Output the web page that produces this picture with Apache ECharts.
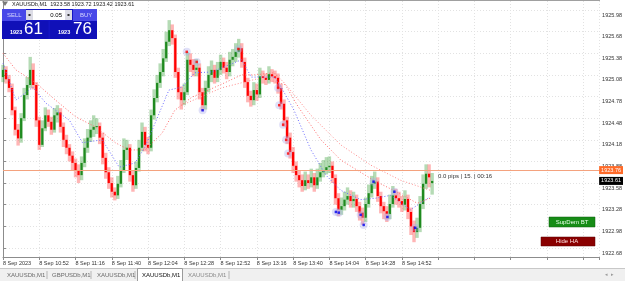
<!DOCTYPE html>
<html><head><meta charset="utf-8">
<script src="https://cdn.jsdelivr.net/npm/echarts@6/dist/echarts.min.js"></script>
<style>html,body{margin:0;padding:0;background:#fff;}#c{width:625px;height:281px;}</style>
</head><body><div id="c"></div>
<script>
// ---- data (minutes counted from 8 Sep 10:28, one bar = 2 minutes) ----
const barMinutes = 2;
const tickLabels = ['8 Sep 2023','8 Sep 10:52','8 Sep 11:16','8 Sep 11:40','8 Sep 12:04','8 Sep 12:28','8 Sep 12:52','8 Sep 13:16','8 Sep 13:40','8 Sep 14:04','8 Sep 14:28','8 Sep 14:52'];
const priceTicks = [1922.68,1922.98,1923.28,1923.58,1923.88,1924.18,1924.48,1924.78,1925.08,1925.38,1925.68,1925.98];
const opens = [1925.05,1925.15,1925.02,1924.90,1924.59,1924.32,1924.20,1924.48,1924.80,1924.94,
1925.15,1924.94,1924.45,1924.11,1924.34,1924.52,1924.43,1924.32,1924.52,1924.56,
1924.36,1924.18,1924.07,1923.96,1923.86,1923.76,1923.69,1923.86,1924.07,1924.21,
1924.32,1924.36,1924.37,1924.21,1923.93,1923.73,1923.58,1923.46,1923.41,1923.57,
1923.76,1924.04,1924.07,1923.69,1923.55,1923.79,1924.07,1924.29,1924.11,1924.07,
1924.52,1924.76,1924.97,1925.12,1925.31,1925.54,1925.70,1925.59,1925.12,1924.84,
1924.73,1924.84,1925.29,1925.22,1925.15,1925.18,1924.84,1924.66,1924.90,1925.08,
1925.15,1925.04,1925.15,1925.26,1925.18,1925.12,1925.29,1925.33,1925.40,1925.45,
1925.26,1924.98,1924.79,1924.73,1924.87,1924.81,1925.06,1925.04,1925.01,1925.09,
1925.06,1925.04,1924.90,1924.68,1924.45,1924.21,1924.01,1923.82,1923.69,1923.62,
1923.54,1923.62,1923.58,1923.66,1923.55,1923.66,1923.73,1923.76,1923.80,1923.82,
1923.65,1923.37,1923.21,1923.26,1923.35,1923.40,1923.33,1923.36,1923.26,1923.17,
1923.10,1923.29,1923.44,1923.57,1923.60,1923.40,1923.26,1923.19,1923.15,1923.29,
1923.41,1923.37,1923.33,1923.28,1923.36,1923.18,1922.98,1922.90,1922.96,1923.29,
1923.57,1923.71,1923.58];
const closes = [1925.15,1925.02,1924.90,1924.59,1924.32,1924.20,1924.48,1924.80,1924.94,1925.15,
1924.94,1924.45,1924.11,1924.34,1924.52,1924.43,1924.32,1924.52,1924.56,1924.36,
1924.18,1924.07,1923.96,1923.86,1923.76,1923.69,1923.86,1924.07,1924.21,1924.32,
1924.36,1924.37,1924.21,1923.93,1923.73,1923.58,1923.46,1923.41,1923.57,1923.76,
1924.04,1924.07,1923.69,1923.55,1923.79,1924.07,1924.29,1924.11,1924.07,1924.52,
1924.76,1924.97,1925.12,1925.31,1925.54,1925.70,1925.59,1925.12,1924.84,1924.73,
1924.84,1925.29,1925.22,1925.15,1925.18,1924.84,1924.66,1924.90,1925.08,1925.15,
1925.04,1925.15,1925.26,1925.18,1925.12,1925.29,1925.33,1925.40,1925.45,1925.26,
1924.98,1924.79,1924.73,1924.87,1924.81,1925.06,1925.04,1925.01,1925.09,1925.06,
1925.04,1924.90,1924.68,1924.45,1924.21,1924.01,1923.82,1923.69,1923.62,1923.54,
1923.62,1923.58,1923.66,1923.55,1923.66,1923.73,1923.76,1923.80,1923.82,1923.65,
1923.37,1923.21,1923.26,1923.35,1923.40,1923.33,1923.36,1923.26,1923.17,1923.10,
1923.29,1923.44,1923.57,1923.60,1923.40,1923.26,1923.19,1923.15,1923.29,1923.41,
1923.37,1923.33,1923.28,1923.36,1923.18,1922.98,1922.90,1922.96,1923.29,1923.57,
1923.71,1923.66,1923.61];
const highs = [1925.22,1925.20,1925.08,1924.96,1924.64,1924.40,1924.55,1924.90,1925.05,1925.33,
1925.24,1924.98,1924.50,1924.45,1924.63,1924.60,1924.50,1924.62,1924.66,1924.62,
1924.42,1924.25,1924.12,1924.02,1923.92,1923.84,1923.95,1924.20,1924.33,1924.45,
1924.52,1924.48,1924.42,1924.28,1924.00,1923.80,1923.66,1923.52,1923.68,1923.90,
1924.20,1924.18,1924.12,1923.76,1923.88,1924.18,1924.42,1924.36,1924.22,1924.60,
1924.88,1925.08,1925.24,1925.44,1925.68,1925.84,1925.78,1925.64,1925.18,1924.92,
1924.96,1925.40,1925.38,1925.30,1925.30,1925.24,1924.90,1925.00,1925.20,1925.28,
1925.22,1925.26,1925.36,1925.32,1925.26,1925.40,1925.44,1925.52,1925.58,1925.52,
1925.32,1925.04,1924.86,1924.98,1924.96,1925.18,1925.14,1925.10,1925.20,1925.16,
1925.14,1925.10,1924.96,1924.74,1924.50,1924.28,1924.08,1923.88,1923.76,1923.70,
1923.74,1923.70,1923.78,1923.72,1923.78,1923.86,1923.90,1923.94,1923.95,1923.88,
1923.70,1923.44,1923.38,1923.46,1923.52,1923.48,1923.46,1923.42,1923.32,1923.24,
1923.38,1923.56,1923.68,1923.74,1923.66,1923.46,1923.32,1923.26,1923.42,1923.54,
1923.50,1923.46,1923.40,1923.48,1923.42,1923.24,1923.06,1923.10,1923.40,1923.70,
1923.84,1923.84,1923.72];
const lows = [1924.98,1924.96,1924.84,1924.52,1924.24,1924.10,1924.14,1924.44,1924.74,1924.90,
1924.88,1924.36,1924.04,1924.08,1924.30,1924.36,1924.25,1924.28,1924.42,1924.28,
1924.08,1923.98,1923.88,1923.76,1923.66,1923.58,1923.62,1923.80,1924.00,1924.15,
1924.22,1924.26,1924.12,1923.84,1923.64,1923.50,1923.38,1923.34,1923.36,1923.52,
1923.72,1923.90,1923.60,1923.46,1923.50,1923.74,1924.02,1924.02,1923.98,1924.02,
1924.46,1924.70,1924.90,1925.06,1925.26,1925.48,1925.50,1925.04,1924.74,1924.60,
1924.66,1924.80,1925.12,1925.06,1925.06,1924.74,1924.58,1924.60,1924.84,1924.98,
1924.96,1924.98,1925.08,1925.10,1925.02,1925.06,1925.20,1925.26,1925.32,1925.18,
1924.90,1924.70,1924.64,1924.66,1924.72,1924.76,1924.96,1924.94,1924.96,1924.98,
1924.96,1924.82,1924.60,1924.36,1924.12,1923.92,1923.72,1923.60,1923.52,1923.46,
1923.48,1923.50,1923.52,1923.46,1923.50,1923.60,1923.66,1923.70,1923.72,1923.58,
1923.28,1923.12,1923.14,1923.20,1923.28,1923.24,1923.24,1923.18,1923.06,1923.00,
1923.04,1923.24,1923.38,1923.50,1923.32,1923.16,1923.08,1923.04,1923.08,1923.24,
1923.28,1923.24,1923.18,1923.20,1923.08,1922.86,1922.76,1922.82,1922.90,1923.22,
1923.50,1923.52,1923.42];
// moving averages [minute, price]
const fastMA = [[0,1925.24],[8.5,1924.73],[19.7,1924.91],[28.3,1924.69],[44,1924.45],[52.6,1924.14],[65.7,1924.18],[76.9,1923.80],[87.4,1923.86],[94,1924.08],[109.8,1924.87],[118.3,1924.91],[126.9,1925.11],[138,1925.12],[153.2,1925.25],[157.8,1925.29],[164.4,1925.05],[179.5,1925.05],[184.1,1924.91],[192.6,1924.59],[203.8,1924.04],[213.7,1923.69],[223.5,1923.48],[236.7,1923.35],[246.5,1923.37],[256.4,1923.41],[269.6,1923.21],[276.1,1923.30],[282.7,1923.39]];
const midMA = [[0,1925.38],[8.5,1925.15],[21.7,1924.97],[34.8,1924.73],[48,1924.50],[61.1,1924.36],[74.3,1924.14],[83.5,1924.04],[94,1924.04],[105.2,1924.27],[113.7,1924.59],[124.9,1924.77],[136.1,1924.87],[146.6,1924.97],[157.8,1925.08],[166.3,1925.08],[179.5,1925.11],[186.1,1924.97],[195.3,1924.64],[210.4,1924.18],[223.5,1923.90],[245.2,1923.62],[258.4,1923.48],[274.2,1923.30],[282.7,1923.37]];
const slowMA = [[118.3,1924.66],[144.6,1924.90],[170.9,1925.04],[187.4,1924.94],[203.8,1924.52],[223.5,1924.11],[243.3,1923.83],[263,1923.62],[282.7,1923.48]];
const pivotHighs = [[121.6,1925.40],[128.2,1925.26],[155.8,1925.44],[182.1,1924.90],[182.8,1924.66],[185.4,1924.39],[187.4,1924.18],[188.7,1923.99]];
const pivotLows = [[132.1,1924.59],[220.3,1923.18],[222.2,1923.17],[236.7,1923.14],[238.7,1923.00],[245.2,1923.60],[254.4,1923.11],[259,1923.46],[272.8,1922.96]];
const askPrice = 1923.76;
const bidPrice = 1923.61;

// ---- chart ----
const F = '"Liberation Sans", Arial, sans-serif';
const n = Math.min(opens.length, closes.length, highs.length, lows.length);
const candleData = [];
for (let i = 0; i < n; i++) candleData.push([i * barMinutes, opens[i], closes[i], lows[i], highs[i]]);

const chart = echarts.init(document.getElementById('c'), null, {renderer: 'canvas'});
const dotted = [1, 2];
const priceLabel = (bg) => ({position: 'end', distance: 0, formatter: p => p.value.toFixed(2), fontSize: 5.5, fontFamily: F,
  color: '#fff', backgroundColor: bg, padding: [1, 2, 1, 2]});
const option = {
  animation: false,
  grid: {left: 0, right: 25, top: 1, bottom: 24},
  xAxis: {
    type: 'value', min: 0, max: 394.5, interval: 24,
    axisLine: {lineStyle: {color: '#8c8c8c'}},
    axisTick: {length: 3, lineStyle: {color: '#8c8c8c'}},
    axisLabel: {
      fontSize: 5.5, fontFamily: F, color: '#333', align: 'left', margin: 3,
      formatter: v => { const k = Math.round(v / 24); return tickLabels[k] || ''; }
    },
    splitLine: {show: true, lineStyle: {color: '#e2e2e2', type: dotted}}
  },
  yAxis: {
    type: 'value', position: 'right', min: 1922.555, max: 1926.105, scale: true,
    axisLine: {show: true, lineStyle: {color: '#8c8c8c'}},
    axisTick: {show: true, length: 3, customValues: priceTicks, lineStyle: {color: '#8c8c8c'}},
    axisLabel: {customValues: priceTicks, fontSize: 5.5, fontFamily: F, color: '#333', margin: 3,
      verticalAlign: 'top', padding: [2, 0, 0, 0], formatter: v => v.toFixed(2)},
    splitLine: {show: true, lineStyle: {color: '#e2e2e2', type: dotted}}
  },
  series: [
    {
      type: 'custom', name: 'bars', data: candleData, encode: {x: 0, y: [1, 2, 3, 4]},
      renderItem: function (params, api) {
        const t = api.value(0), o = api.value(1), c = api.value(2), l = api.value(3), h = api.value(4);
        const pO = api.coord([t, o]), pC = api.coord([t, c]), pL = api.coord([t, l]), pH = api.coord([t, h]);
        const up = c >= o;
        const x = pO[0];
        const top = Math.min(pO[1], pC[1]);
        const hb = Math.max(1, Math.abs(pO[1] - pC[1]));
        return {type: 'group', children: [
          {type: 'rect', shape: {x: x - 1.7, y: pH[1], width: 3.4, height: pL[1] - pH[1]},
           style: {fill: up ? 'rgba(70,165,70,0.4)' : 'rgba(255,70,70,0.4)'}},
          {type: 'rect', shape: {x: x - 1.1, y: top, width: 2.2, height: hb},
           style: {fill: up ? '#1f8a1f' : '#ff0000'}}
        ]};
      },
      z: 3
    },
    {
      type: 'line', name: 'fast', data: fastMA, showSymbol: false, z: 4,
      lineStyle: {color: '#6b6bff', width: 1, type: dotted},
      markLine: {
        silent: true, symbol: 'none',
        data: [
          {yAxis: askPrice, lineStyle: {color: '#f4a27e', width: 1, type: 'solid'}, label: priceLabel('#ff6a28')},
          {yAxis: bidPrice, lineStyle: {color: 'rgba(0,0,0,0)', width: 1, type: 'solid'}, label: priceLabel('#000000')}
        ]
      }
    },
    {type: 'line', name: 'mid', data: midMA, showSymbol: false, z: 4, lineStyle: {color: '#ff6a6a', width: 1, type: dotted}},
    {type: 'line', name: 'slow', data: slowMA, showSymbol: false, z: 4, lineStyle: {color: '#ff8a8a', width: 1, type: dotted}},
    {type: 'scatter', name: 'rings', data: pivotHighs.concat(pivotLows), symbolSize: 8, z: 5,
     itemStyle: {color: 'rgba(170,170,235,0.45)'}},
    {type: 'scatter', name: 'hiDots', data: pivotHighs, symbolSize: 2.5, symbol: 'rect', z: 6, itemStyle: {color: '#ff0000'}},
    {type: 'scatter', name: 'loDots', data: pivotLows, symbolSize: 2.5, symbol: 'rect', z: 6, itemStyle: {color: '#0000ee'}}
  ],
  graphic: [
    {type: 'line', z: 50, shape: {x1: 0, y1: 0.5, x2: 600, y2: 0.5}, style: {stroke: '#a0a0a0', lineWidth: 1}},
    {type: 'polygon', z: 100, shape: {points: [[2, 1.5], [8, 1.5], [5, 6]]}, style: {fill: '#7a7a7a'}},
    {type: 'text', z: 100, x: 12, y: 1, style: {text: 'XAUUSDb,M1  1923.58 1923.72 1923.42 1923.61', font: '5.5px ' + F, fill: '#222'}},
    // one-click trading panel
    {type: 'rect', z: 100, shape: {x: 2, y: 9, width: 95, height: 30}, style: {fill: '#1414c4'}},
    {type: 'rect', z: 101, shape: {x: 2, y: 9, width: 24, height: 12}, style: {fill: '#4848e8'}},
    {type: 'text', z: 102, x: 7, y: 12, style: {text: 'SELL', font: '6px ' + F, fill: '#d8d8ff'}},
    {type: 'rect', z: 101, shape: {x: 26, y: 10, width: 7, height: 10}, style: {fill: '#dcdce6'}},
    {type: 'rect', z: 102, shape: {x: 28.5, y: 14, width: 2, height: 2}, style: {fill: '#333'}},
    {type: 'rect', z: 101, shape: {x: 33, y: 10, width: 32, height: 10}, style: {fill: '#ffffff'}},
    {type: 'text', z: 102, x: 62, y: 12, style: {text: '0.05', font: '6px ' + F, fill: '#000', align: 'right'}},
    {type: 'rect', z: 101, shape: {x: 65, y: 10, width: 7, height: 10}, style: {fill: '#dcdce6'}},
    {type: 'rect', z: 102, shape: {x: 67.5, y: 14, width: 2, height: 2}, style: {fill: '#333'}},
    {type: 'rect', z: 101, shape: {x: 73, y: 9, width: 24, height: 12}, style: {fill: '#4848e8'}},
    {type: 'text', z: 102, x: 80, y: 12, style: {text: 'BUY', font: '6px ' + F, fill: '#d8d8ff'}},
    {type: 'rect', z: 101, shape: {x: 2, y: 21, width: 46.5, height: 18}, style: {fill: '#1010b8'}},
    {type: 'rect', z: 101, shape: {x: 50, y: 21, width: 47, height: 18}, style: {fill: '#1010b8'}},
    {type: 'text', z: 102, x: 10, y: 29.5, style: {text: '1923', font: 'bold 5.5px ' + F, fill: '#fff'}},
    {type: 'text', z: 102, x: 24, y: 21, style: {text: '61', font: '17px ' + F, fill: '#fff'}},
    {type: 'text', z: 102, x: 58, y: 29.5, style: {text: '1923', font: 'bold 5.5px ' + F, fill: '#fff'}},
    {type: 'text', z: 102, x: 73, y: 21, style: {text: '76', font: '17px ' + F, fill: '#fff'}},
    // info text
    {type: 'text', z: 100, x: 438, y: 173, style: {text: '0.0 pips | 15. | 00:16', font: '6px ' + F, fill: '#333'}},
    // buttons
    {type: 'rect', z: 100, shape: {x: 549, y: 217, width: 46, height: 10}, style: {fill: '#168c16', stroke: '#0c5c0c', lineWidth: 0.5}},
    {type: 'text', z: 101, x: 572, y: 222, style: {text: 'SupDem BT', font: '6px ' + F, fill: '#e8ffe8', align: 'center', verticalAlign: 'middle'}},
    {type: 'rect', z: 100, shape: {x: 541, y: 237, width: 54, height: 9}, style: {fill: '#8a0000', stroke: '#5a0000', lineWidth: 0.5}},
    {type: 'text', z: 101, x: 567, y: 241.5, style: {text: 'Hide HA', font: '6px ' + F, fill: '#ffe0e0', align: 'center', verticalAlign: 'middle'}},
    // tab bar
    {type: 'rect', z: 100, shape: {x: 0, y: 268, width: 625, height: 13}, style: {fill: '#f0f0f0'}},
    {type: 'line', z: 101, shape: {x1: 0, y1: 268.5, x2: 625, y2: 268.5}, style: {stroke: '#c8c8c8', lineWidth: 1}},
    {type: 'rect', z: 101, shape: {x: 137.5, y: 268.5, width: 45, height: 13}, style: {fill: '#ffffff', stroke: '#9a9a9a', lineWidth: 1}},
    {type: 'text', z: 102, x: 7, y: 272, style: {text: 'XAUUSDb,M1', font: '6px ' + F, fill: '#6a6a6a'}},
    {type: 'text', z: 102, x: 52, y: 272, style: {text: 'GBPUSDb,M1', font: '6px ' + F, fill: '#6a6a6a'}},
    {type: 'text', z: 102, x: 97, y: 272, style: {text: 'XAUUSDb,M1', font: '6px ' + F, fill: '#6a6a6a'}},
    {type: 'text', z: 102, x: 142, y: 272, style: {text: 'XAUUSDb,M1', font: '6px ' + F, fill: '#111'}},
    {type: 'text', z: 102, x: 188, y: 272, style: {text: 'XAUUSDb,M1', font: '6px ' + F, fill: '#8a8a8a'}},
    {type: 'line', z: 101, shape: {x1: 47, y1: 271, x2: 47, y2: 279}, style: {stroke: '#b4b4b4', lineWidth: 1}},
    {type: 'line', z: 101, shape: {x1: 91, y1: 271, x2: 91, y2: 279}, style: {stroke: '#b4b4b4', lineWidth: 1}},
    {type: 'line', z: 101, shape: {x1: 135, y1: 271, x2: 135, y2: 279}, style: {stroke: '#b4b4b4', lineWidth: 1}},
    {type: 'line', z: 101, shape: {x1: 229, y1: 271, x2: 229, y2: 279}, style: {stroke: '#b4b4b4', lineWidth: 1}},
    {type: 'text', z: 102, x: 605, y: 272, style: {text: '◂  ▸', font: '5px ' + F, fill: '#9a9a9a'}}
  ]
};
chart.setOption(option);
</script>
</body></html>
